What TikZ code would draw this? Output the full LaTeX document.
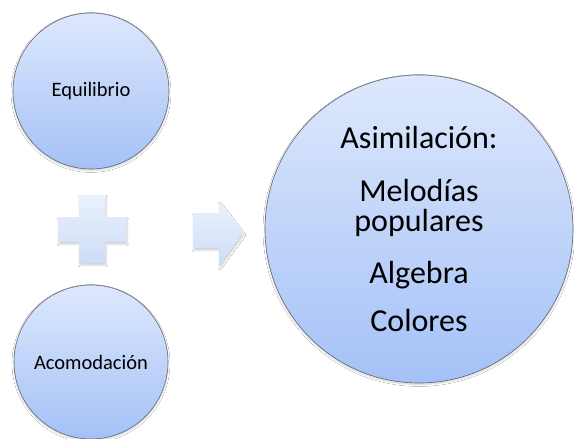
\documentclass[tikz,border=0pt]{standalone}
\usepackage{fontspec}
\setmainfont{Carlito}
\usetikzlibrary{shadows.blur}
\definecolor{ctop}{HTML}{DDE8FC}
\definecolor{cbot}{HTML}{A4C1F7}
\definecolor{ptop}{HTML}{EBF1FD}
\definecolor{pbot}{HTML}{CCDCF8}
\definecolor{edge}{HTML}{60656F}
\tikzset{
  bubble/.style={circle, draw=edge, line width=0.6pt, top color=ctop, bottom color=cbot, inner sep=0pt, align=center,
    blur shadow={shadow xshift=0pt, shadow yshift=-1.5pt, shadow blur steps=6, shadow opacity=18}},
  sym/.style={top color=ptop, bottom color=pbot, draw=none,
    blur shadow={shadow xshift=1pt, shadow yshift=-2pt, shadow blur steps=5, shadow opacity=20}}
}
\begin{document}
\begin{tikzpicture}[x=1pt,y=-1pt]
\useasboundingbox[fill=white] (0,0) rectangle (574,439);
\node[bubble, minimum size=156pt, font=\fontsize{20.5}{24}\selectfont] (eq) at (91,91) {Equilibrio};
\node[bubble, minimum size=154pt, font=\fontsize{20.5}{24}\selectfont] (ac) at (91,362) {Acomodación};
\node[bubble, minimum size=308pt, font=\fontsize{32}{30}\selectfont] (as) at (419,229)
  {\raisebox{0pt}[0pt][0pt]{}Asimilación:\\[23pt] Melodías\\ populares\\[22pt] Algebra\\[18pt] Colores};
% plus sign
\path[sym] (79,195) -- (105,195) -- (105,217) -- (126,217) -- (126,242) -- (105,242) -- (105,263)
  -- (79,263) -- (79,242) -- (58,242) -- (58,217) -- (79,217) -- cycle;
\coordinate (plusc) at (92,229);
% arrow
\path[sym] (193,213) -- (219,213) -- (219,202) -- (243,233) -- (219,266) -- (219,248) -- (193,248) -- cycle;
\coordinate (arrc) at (218,232);
\end{tikzpicture}
\end{document}
